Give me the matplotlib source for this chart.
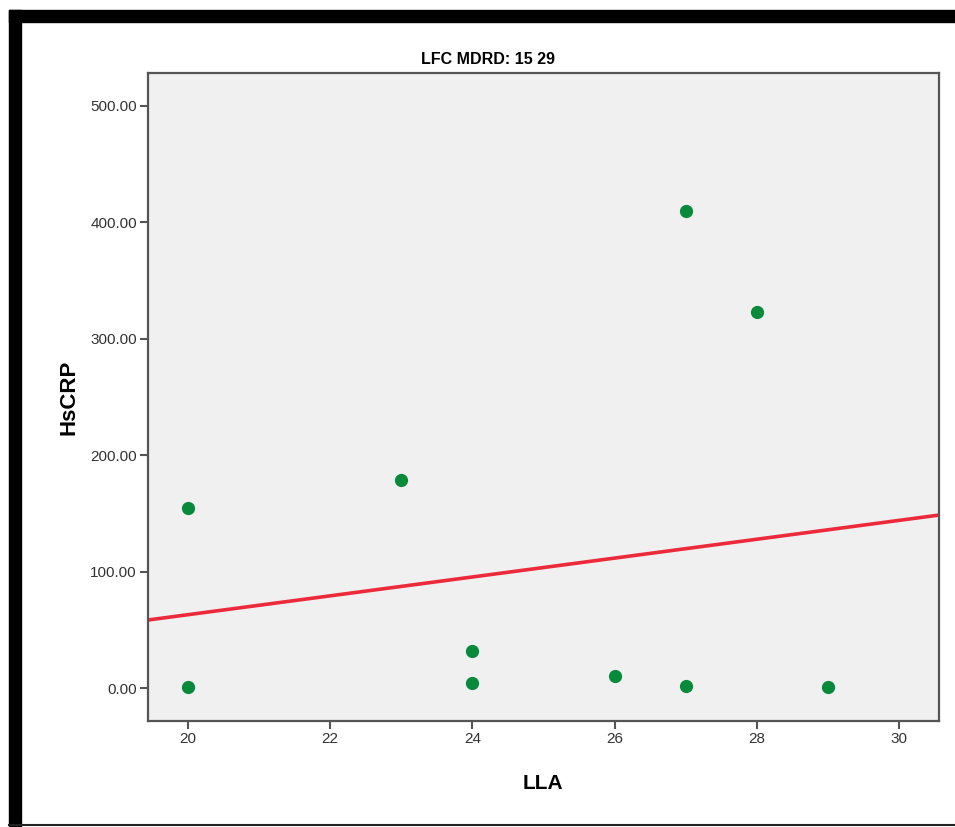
import numpy as np
import matplotlib.pyplot as plt
from matplotlib.patches import Rectangle
from matplotlib.lines import Line2D

plt.rcParams['font.family'] = ['Liberation Sans', 'DejaVu Sans']

# LLA vs HsCRP, group LFC MDRD 15-29
lla = [20, 20, 23, 24, 24, 26, 27, 27, 28, 29]
hscrp = [155, 1, 179, 32, 4, 10, 410, 2, 323, 1]

# linear fit line (intercept, slope)
fit_intercept = -99.0
fit_slope = 8.1

x_ticks = [20, 22, 24, 26, 28, 30]
y_ticks = [0, 100, 200, 300, 400, 500]

fig = plt.figure(figsize=(9.55, 8.27), dpi=100)
ax = fig.add_axes([0.155, 0.128, 0.828, 0.784])
ax.set_facecolor('#f0f0f0')

ax.set_xlim(19.44, 30.56)
ax.set_ylim(-28.4, 528.4)

xx = np.array(ax.get_xlim())
ax.plot(xx, fit_intercept + fit_slope * xx, color='#ec2a3a', lw=2.6, zorder=2)
ax.plot(lla, hscrp, 'o', color='#078a3a', ms=8.5, mec='#078a3a', zorder=3)

ax.set_xticks(x_ticks)
ax.set_yticks(y_ticks)
ax.set_yticklabels(['%.2f' % v for v in y_ticks])
ax.tick_params(direction='out', length=6, width=1.5, color='#555555',
               labelsize=11, labelcolor='#333333', pad=2)
for s in ax.spines.values():
    s.set_color('#555555')
    s.set_linewidth(1.6)

ax.set_xlabel('LLA', fontsize=15, fontweight='bold', labelpad=20)
ax.set_ylabel('HsCRP', fontsize=16, fontweight='bold', labelpad=8)

fig.text(488 / 955, 1 - 60 / 827, 'LFC MDRD: 15 29', ha='center', va='center',
         fontsize=11.5, fontweight='bold')

# black frame around the chart
fig.patches.append(Rectangle((9 / 955, 1 - 22 / 827), 1, 12 / 827,
                             transform=fig.transFigure, color='black'))
fig.patches.append(Rectangle((9 / 955, 1 - 826 / 827), 12 / 955, 816 / 827,
                             transform=fig.transFigure, color='black'))
fig.lines.append(Line2D([9 / 955, 1], [1 - 825 / 827, 1 - 825 / 827],
                        transform=fig.transFigure, color='#222222', lw=1.5))

fig.savefig('out.png', dpi=100)
